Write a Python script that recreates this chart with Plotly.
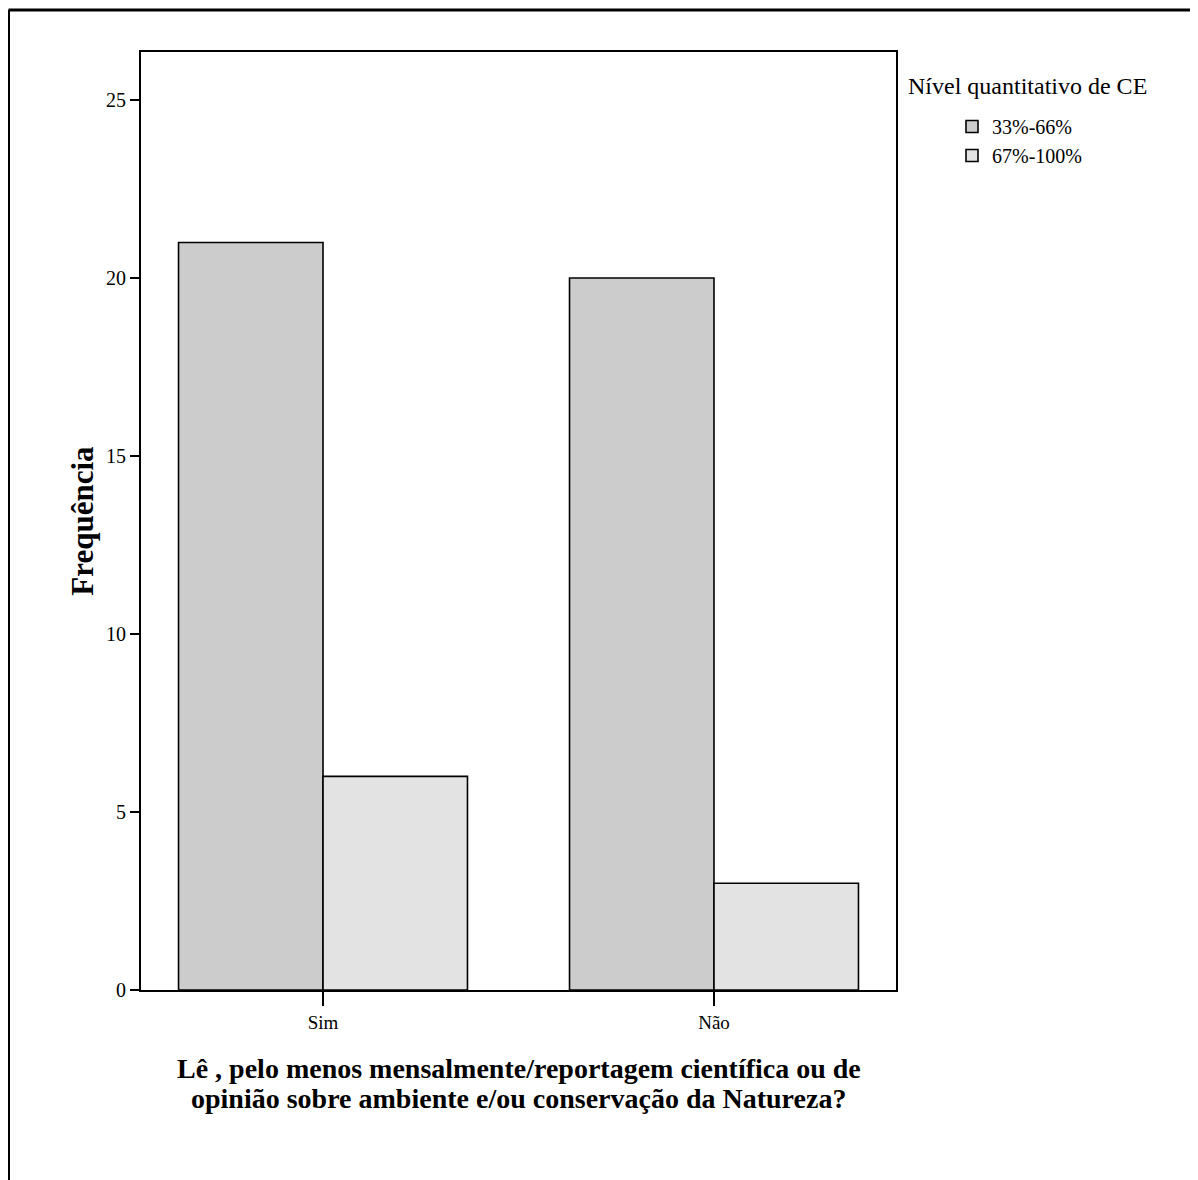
import plotly.graph_objects as go

categories = ["Sim", "Não"]
series_names = ["33%-66%", "67%-100%"]
values_33_66 = [21, 20]
values_67_100 = [6, 3]
y_ticks = [0, 5, 10, 15, 20, 25]
x_title_lines = [
    "Lê , pelo menos mensalmente/reportagem científica ou de",
    "opinião sobre ambiente e/ou conservação da Natureza?",
]

colors = ["#cccccc", "#e3e3e3"]
FONT = "Liberation Serif, Times New Roman, serif"

OFF = 8  # page body margin
W, H = 1198 - OFF, 1180 - OFF
# plot area in page pixels
L, R, T, B = 141, 896, 52, 990


def px(x):
    return (x - L) / (R - L)


def py(y):
    return (B - y) / (B - T)


fig = go.Figure()
for name, vals, c in zip(series_names, [values_33_66, values_67_100], colors):
    fig.add_trace(go.Bar(
        x=categories, y=vals, name=name,
        marker=dict(color=c, line=dict(color="black", width=1.6)),
    ))

fig.update_layout(
    width=W, height=H,
    margin=dict(l=L - OFF, r=W - (R - OFF), t=T - OFF, b=H - (B - OFF), pad=0),
    paper_bgcolor="white", plot_bgcolor="white",
    barmode="group", bargap=0.261, bargroupgap=0,
    font=dict(family=FONT, color="black", size=20),
    showlegend=True,
    legend=dict(
        x=px(952), y=py(107), xanchor="left", yanchor="top",
        font=dict(family=FONT, size=20, color="black"),
        bgcolor="rgba(0,0,0,0)", tracegroupgap=0, itemwidth=30,
    ),
)

fig.update_xaxes(
    type="category", range=[-0.4655, 1.4655],
    showline=True, mirror=True, linecolor="black", linewidth=2,
    ticks="outside", ticklen=14, tickwidth=2, tickcolor="black",
    showgrid=False, zeroline=False,
    tickfont=dict(family=FONT, size=19),
)
fig.update_yaxes(
    range=[0, 26.35], tickvals=y_ticks,
    showline=True, mirror=True, linecolor="black", linewidth=2,
    ticks="outside", ticklen=9, tickwidth=2, tickcolor="black",
    showgrid=False, zeroline=False,
    tickfont=dict(family=FONT, size=20),
    title=dict(text="<b>Frequência</b>", font=dict(family=FONT, size=31), standoff=3),
)

# x-axis title (two lines)
for line_text, yc in zip(x_title_lines, [1068, 1098]):
    fig.add_annotation(
        x=0.5, y=py(yc), xref="paper", yref="paper",
        xanchor="center", yanchor="middle", showarrow=False,
        text="<b>" + line_text + "</b>",
        font=dict(family=FONT, size=28, color="black"),
    )

# legend title
fig.add_annotation(
    x=px(906), y=py(86), xref="paper", yref="paper",
    xanchor="left", yanchor="middle", showarrow=False,
    text="Nível quantitativo de CE",
    font=dict(family=FONT, size=24, color="black"),
)

# outer frame (cropped: top and left edges visible)
fig.add_shape(type="line", xref="paper", yref="paper",
              x0=px(8.5), y0=py(10), x1=px(1220), y1=py(10),
              line=dict(color="black", width=3))
fig.add_shape(type="line", xref="paper", yref="paper",
              x0=px(8.5), y0=py(10), x1=px(8.5), y1=py(1220),
              line=dict(color="black", width=3))

fig.write_html("out.html")
